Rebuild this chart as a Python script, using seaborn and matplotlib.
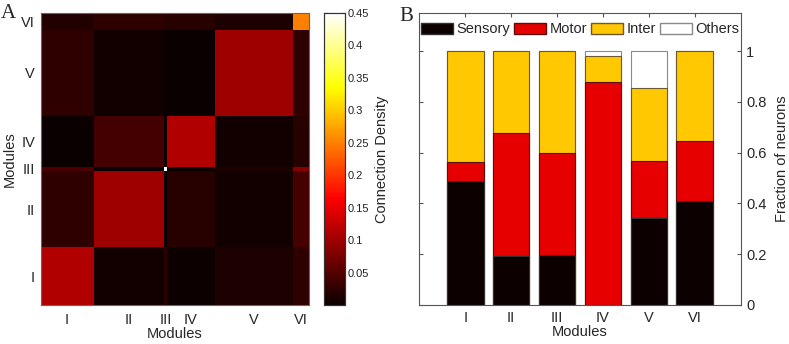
import numpy as np
import pandas as pd
import matplotlib
matplotlib.use("Agg")
import matplotlib.pyplot as plt
import seaborn as sns

sns.set_style("white")
plt.rcParams['font.family'] = ['Liberation Sans', 'DejaVu Sans']

# ---------------- data ----------------
modules = ["I", "II", "III", "IV", "V", "VI"]
module_sizes = [55, 73, 4, 49, 82, 16]

# connection density, rows = module (I..VI), cols = module (I..VI)
dens_I   = [0.111, 0.006, 0.025, 0.002, 0.014, 0.025]
dens_II  = [0.025, 0.100, 0.000, 0.021, 0.006, 0.041]
dens_III = [0.043, 0.000, 0.450, 0.000, 0.014, 0.084]
dens_IV  = [0.001, 0.039, 0.000, 0.111, 0.006, 0.021]
dens_V   = [0.025, 0.006, 0.000, 0.000, 0.100, 0.025]
dens_VI  = [0.016, 0.025, 0.021, 0.021, 0.014, 0.250]

sensory = [0.489, 0.192, 0.197, 0.000, 0.344, 0.410]
motor   = [0.073, 0.486, 0.400, 0.877, 0.223, 0.237]
inter   = [0.438, 0.322, 0.403, 0.103, 0.286, 0.353]
others  = [0.000, 0.000, 0.000, 0.020, 0.147, 0.000]

cbar_ticks = [0.05, 0.1, 0.15, 0.2, 0.25, 0.3, 0.35, 0.4, 0.45]
frac_ticks = [0, 0.2, 0.4, 0.6, 0.8, 1]
frac_ticklabels = ["0", "0.2", "0.4", "0.6", "0.8", "1"]

col_sensory = "#0d0000"
col_motor = "#e60000"
col_inter = "#ffc800"
col_others = "#ffffff"

# ---------------- figure ----------------
W, H = 789, 344
fig = plt.figure(figsize=(W / 100, H / 100), dpi=100)

def rect(x0, y0, x1, y1):
    return [x0 / W, 1 - y1 / H, (x1 - x0) / W, (y1 - y0) / H]

ax1 = fig.add_axes(rect(40.7, 13, 308.7, 305))
cax = fig.add_axes(rect(324, 13, 345, 305))
ax2 = fig.add_axes(rect(419.3, 13, 740.7, 305))

# ---- heatmap (block matrix expanded to neuron level) ----
blocks = np.array([dens_I, dens_II, dens_III, dens_IV, dens_V, dens_VI])
sizes = np.array(module_sizes)
full = np.repeat(np.repeat(blocks, sizes, axis=0), sizes, axis=1)
full = full[::-1, :]  # module I at the bottom
sns.heatmap(full, cmap="hot", vmin=0, vmax=0.45, ax=ax1, cbar_ax=cax,
            xticklabels=False, yticklabels=False, rasterized=True,
            cbar_kws={"ticks": cbar_ticks})
edges = np.concatenate([[0], np.cumsum(sizes)])
centers = (edges[:-1] + edges[1:]) / 2
N = edges[-1]
ax1.set_xticks(centers)
ax1.set_xticklabels(modules, fontsize=10.5)
ax1.set_yticks(N - centers)
ax1.set_yticklabels(modules, fontsize=10.5, rotation=0)
ax1.tick_params(axis="x", length=0, pad=6)
ax1.tick_params(axis="y", length=0, pad=4)
ax1.set_xlabel("Modules", fontsize=10.5, labelpad=0)
ax1.set_ylabel("Modules", fontsize=10.5, labelpad=3)
for sp in ax1.spines.values():
    sp.set_visible(True)
    sp.set_color("#666666")
    sp.set_linewidth(0.8)

cax.tick_params(direction="in", left=True, right=True, length=3, labelsize=8,
                colors="#222222", pad=2)
cax.set_yticklabels([f"{t:g}" for t in cbar_ticks])
cax.set_ylabel("Connection Density", fontsize=10.5, labelpad=4)
cax.yaxis.set_label_position("right")
for sp in cax.spines.values():
    sp.set_visible(True)
    sp.set_color("#333333")
    sp.set_linewidth(0.8)

# ---- stacked bars (layered cumulative) ----
df = pd.DataFrame({"Module": modules, "Sensory": sensory, "Motor": motor,
                   "Inter": inter, "Others": others})
df["c_s"] = df["Sensory"]
df["c_m"] = df["c_s"] + df["Motor"]
df["c_i"] = df["c_m"] + df["Inter"]
df["c_o"] = df["c_i"] + df["Others"]

layers = [("c_o", col_others, "Others", "#8a8a8a"),
          ("c_i", col_inter, "Inter", "#6a5a30"),
          ("c_m", col_motor, "Motor", "#5a1010"),
          ("c_s", col_sensory, "Sensory", "#303030")]
for colname, c, lab, ec in layers:
    sns.barplot(data=df, x="Module", y=colname, color=c, width=0.8,
                edgecolor=ec, linewidth=0.8, saturation=1, ax=ax2, label=lab)

ax2.set_xlim(-1, 6)
ax2.set_ylim(0, 1.15)
ax2.yaxis.tick_right()
ax2.yaxis.set_label_position("right")
ax2.set_yticks(frac_ticks)
ax2.set_yticklabels(frac_ticklabels, fontsize=10.5)
ax2.set_xticks(range(len(modules)))
ax2.set_xticklabels(modules, fontsize=10.5)
ax2.tick_params(direction="in", length=3, top=True, bottom=True, left=True,
                right=True, color="#555555", pad=4)
ax2.set_xlabel("Modules", fontsize=10.5, labelpad=0)
ax2.set_ylabel("Fraction of neurons", fontsize=10.5, labelpad=6)
for sp in ax2.spines.values():
    sp.set_visible(True)
    sp.set_color("#555555")
    sp.set_linewidth(0.8)

from matplotlib.patches import Patch
handles = [Patch(facecolor=col_sensory, edgecolor="#303030", label="Sensory"),
           Patch(facecolor=col_motor, edgecolor="#5a1010", label="Motor"),
           Patch(facecolor=col_inter, edgecolor="#6a5a30", label="Inter"),
           Patch(facecolor=col_others, edgecolor="#8a8a8a", label="Others")]
ax2.legend(handles=handles, ncol=4, loc="upper center",
           bbox_to_anchor=(0.5, 1.0), frameon=False, fontsize=10.5,
           handlelength=2.2, handleheight=0.85, handletextpad=0.25,
           columnspacing=0.25, borderaxespad=0.45, borderpad=0.2)

fig.text(1 / W, 1 - 18 / H, "A", fontsize=15, family="Liberation Serif")
fig.text(399 / W, 1 - 21 / H, "B", fontsize=15, family="Liberation Serif")

fig.savefig("out.png", dpi=100)
